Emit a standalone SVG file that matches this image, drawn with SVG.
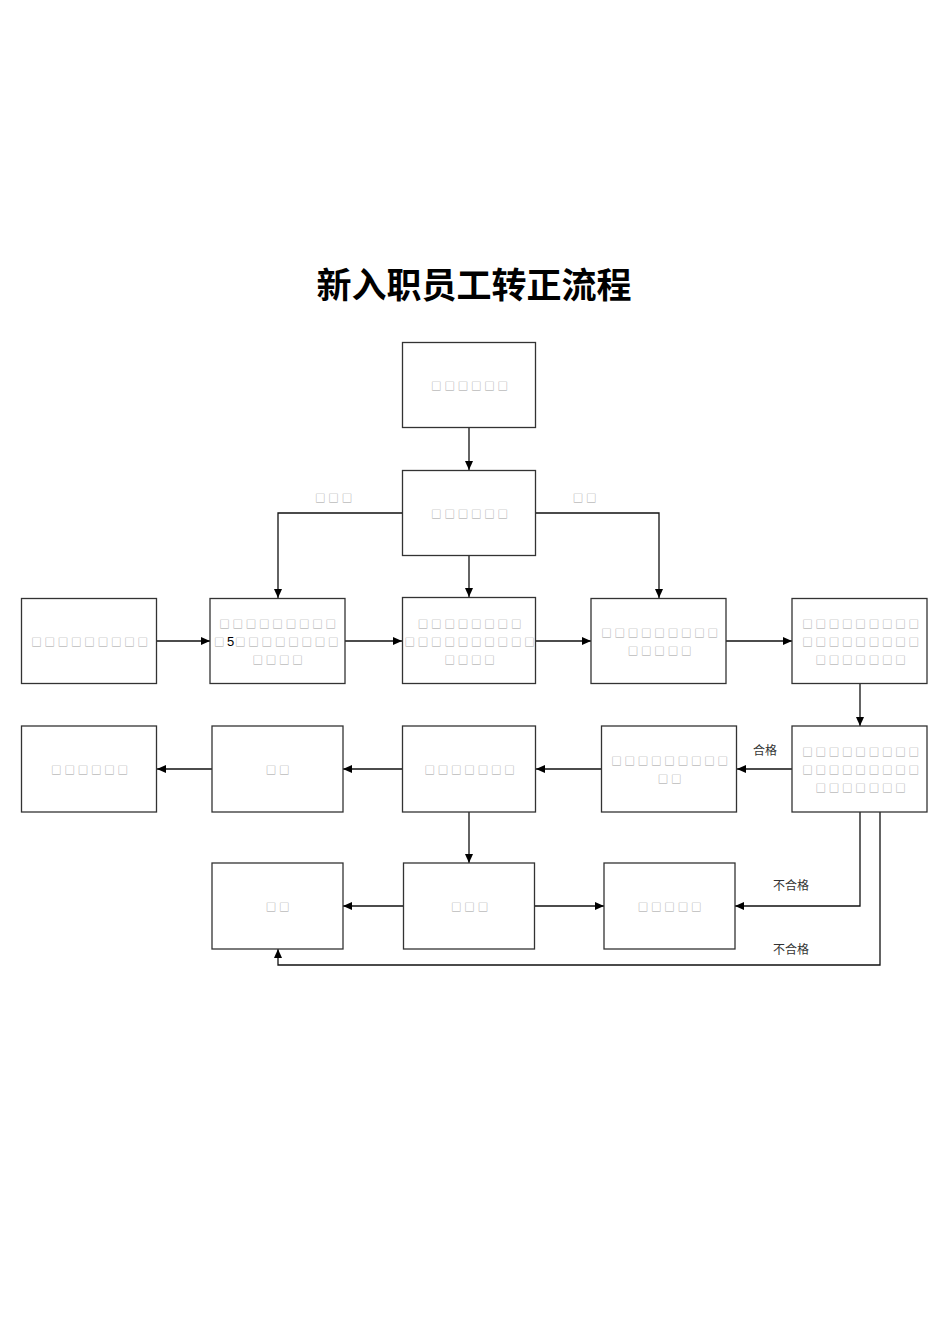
<svg xmlns="http://www.w3.org/2000/svg" width="950" height="1344" viewBox="0 0 950 1344">
<style>
.bg{fill:#ffffff}
.box{fill:#ffffff;stroke:#333333;stroke-width:1.3}
.t{font-family:"Noto Sans CJK SC","DejaVu Sans",sans-serif;font-size:10.5px;fill:#a0a0a0;letter-spacing:2.8px;text-anchor:middle;dominant-baseline:central}
.ts{font-family:"Noto Sans CJK SC","DejaVu Sans",sans-serif;font-size:10.5px;fill:#a0a0a0;letter-spacing:2.8px;text-anchor:start;dominant-baseline:central}
.num{font-family:"Liberation Sans",Arial,sans-serif;font-size:13px;fill:#000000;dominant-baseline:central}
.lbl{font-family:"Noto Sans CJK SC",sans-serif;font-size:12px;fill:#333333;text-anchor:middle;dominant-baseline:central}
.title{font-family:"Noto Sans CJK SC",sans-serif;font-size:35px;font-weight:bold;fill:#000000;text-anchor:middle;dominant-baseline:central}
.ca{fill:none;stroke:#111111;stroke-width:1.3;marker-end:url(#ah)}
</style>
<defs>
<marker id="ah" markerUnits="userSpaceOnUse" markerWidth="10" markerHeight="8" refX="9" refY="4" orient="auto">
<path d="M0,0 L9,4 L0,8 z" fill="#000000"/>
</marker>
</defs>
<rect class="bg" x="0" y="0" width="950" height="1344"/>
<text class="title" x="474" y="282">新入职员工转正流程</text>

<g id="connectors">
<path class="ca" d="M469 428 V470"/>
<path class="ca" d="M402 513 H278 V598"/>
<path class="ca" d="M536 513 H659 V598"/>
<path class="ca" d="M469 556 V597"/>
<path class="ca" d="M157 641 H210"/>
<path class="ca" d="M345 641 H402"/>
<path class="ca" d="M536 641 H591"/>
<path class="ca" d="M726 641 H792"/>
<path class="ca" d="M860 684 V726"/>
<path class="ca" d="M792 769 H737"/>
<path class="ca" d="M601 769 H536"/>
<path class="ca" d="M402 769 H343"/>
<path class="ca" d="M212 769 H157"/>
<path class="ca" d="M469 812 V863"/>
<path class="ca" d="M403 906 H343"/>
<path class="ca" d="M535 906 H604"/>
<path class="ca" d="M860 812 V906 H735"/>
<path class="ca" d="M880 812 V965 H278 V949"/>
<text class="t" x="335" y="497">□□□</text>
<text class="t" x="586" y="497">□□</text>
<text class="lbl" x="765" y="749">合格</text>
<text class="lbl" x="791" y="884">不合格</text>
<text class="lbl" x="791" y="948">不合格</text>
</g>

<g id="nodeA">
<rect class="box" x="402.5" y="342.5" width="133" height="85"/>
<text class="t" x="471" y="385">□□□□□□</text>
</g>
<g id="nodeB">
<rect class="box" x="402.5" y="470.5" width="133" height="85"/>
<text class="t" x="471" y="513">□□□□□□</text>
</g>
<g id="nodeC">
<rect class="box" x="21.5" y="598.5" width="135" height="85"/>
<text class="t" x="91" y="641">□□□□□□□□□</text>
</g>
<g id="nodeD">
<rect class="box" x="210" y="598.5" width="135" height="85"/>
<text class="t" x="279" y="623">□□□□□□□□□</text>
<text class="ts" x="214" y="641">□</text>
<text class="num" x="227" y="641">5</text>
<text class="ts" x="235" y="641">□□□□□□□□</text>
<text class="t" x="279" y="659">□□□□</text>
</g>
<g id="nodeE">
<rect class="box" x="402.5" y="597.5" width="133" height="86"/>
<text class="t" x="471" y="623">□□□□□□□□</text>
<text class="t" x="471" y="641">□□□□□□□□□□</text>
<text class="t" x="471" y="659">□□□□</text>
</g>
<g id="nodeF">
<rect class="box" x="591" y="598.5" width="135" height="85"/>
<text class="t" x="661" y="632">□□□□□□□□□</text>
<text class="t" x="661" y="650">□□□□□</text>
</g>
<g id="nodeG">
<rect class="box" x="792" y="598.5" width="135" height="85"/>
<text class="t" x="862" y="623">□□□□□□□□□</text>
<text class="t" x="862" y="641">□□□□□□□□□</text>
<text class="t" x="862" y="659">□□□□□□□</text>
</g>
<g id="nodeH">
<rect class="box" x="792" y="726" width="135" height="86"/>
<text class="t" x="862" y="751">□□□□□□□□□</text>
<text class="t" x="862" y="769">□□□□□□□□□</text>
<text class="t" x="862" y="787">□□□□□□□</text>
</g>
<g id="nodeI4">
<rect class="box" x="601.5" y="726" width="135" height="86"/>
<text class="t" x="671" y="760">□□□□□□□□□</text>
<text class="t" x="671" y="778">□□</text>
</g>
<g id="nodeI3">
<rect class="box" x="402.5" y="726" width="133" height="86"/>
<text class="t" x="471" y="769">□□□□□□□</text>
</g>
<g id="nodeI2">
<rect class="box" x="212" y="726" width="131" height="86"/>
<text class="t" x="279" y="769">□□</text>
</g>
<g id="nodeI1">
<rect class="box" x="21.5" y="726" width="135" height="86"/>
<text class="t" x="91" y="769">□□□□□□</text>
</g>
<g id="nodeJ1">
<rect class="box" x="212" y="863" width="131" height="86"/>
<text class="t" x="279" y="906">□□</text>
</g>
<g id="nodeJ2">
<rect class="box" x="403.5" y="863" width="131" height="86"/>
<text class="t" x="471" y="906">□□□</text>
</g>
<g id="nodeJ3">
<rect class="box" x="604" y="863" width="131" height="86"/>
<text class="t" x="671" y="906">□□□□□</text>
</g>
</svg>
